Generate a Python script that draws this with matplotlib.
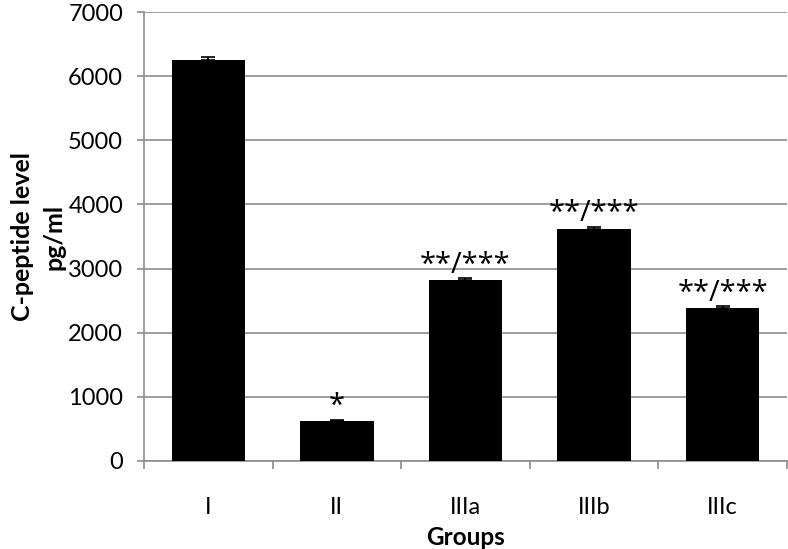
import matplotlib
matplotlib.use("Agg")
import matplotlib.pyplot as plt
import numpy as np

groups = ["I", "II", "IIIa", "IIIb", "IIIc"]
values = [6250, 620, 2820, 3610, 2390]
errors = [50, 20, 30, 40, 20]
marks = ["", "*", "**/***", "**/***", "**/***"]
yticks = [0, 1000, 2000, 3000, 4000, 5000, 6000, 7000]

plt.rcParams['font.family'] = ['Lato', 'DejaVu Sans']

fig = plt.figure(figsize=(7.88, 5.49), dpi=100)
ax = fig.add_axes([0.1827, 0.1603, 0.816, 0.8177])

x = np.arange(len(groups))
grid_c = "#8c8c8c"
ax.bar(x, values, width=0.571, color="black", zorder=3)
ax.errorbar(x, values, yerr=[np.zeros(len(errors)), errors], fmt="none",
            ecolor="black", elinewidth=1.2, capsize=5, capthick=1.2, zorder=4)

for xi, v, e, m in zip(x, values, errors, marks):
    if m:
        ax.text(xi, v + e - 20, m, ha="center", va="bottom", fontsize=21,
                family=["Open Sans", "DejaVu Sans"], zorder=5)

ax.set_xlim(-0.5, len(groups) - 0.5)
ax.set_ylim(0, 7000)
ax.set_yticks(yticks)
ax.set_yticklabels([str(t) for t in yticks], fontsize=17)
ax.yaxis.grid(True, color=grid_c, linewidth=1.2, zorder=0)
ax.set_axisbelow(True)

ax.set_xticks(x)
ax.set_xticklabels(groups, fontsize=17)
ax.set_xticks(np.arange(-0.5, len(groups)), minor=True)
ax.tick_params(axis="x", which="major", length=0, pad=26)
ax.tick_params(axis="x", which="minor", length=6, color=grid_c, width=1.2)
ax.tick_params(axis="y", length=5, color=grid_c, width=1.2, pad=10)

for s in ["top", "right"]:
    ax.spines[s].set_visible(False)
for s in ["left", "bottom"]:
    ax.spines[s].set_color(grid_c)
    ax.spines[s].set_linewidth(1.2)

ax.set_xlabel("Groups", fontsize=17.5, fontweight="bold", labelpad=6)
ax.set_ylabel("C-peptide level\npg/ml", fontsize=18, fontweight="bold", labelpad=2,
              linespacing=1.45)

fig.savefig("out.png", dpi=100)
